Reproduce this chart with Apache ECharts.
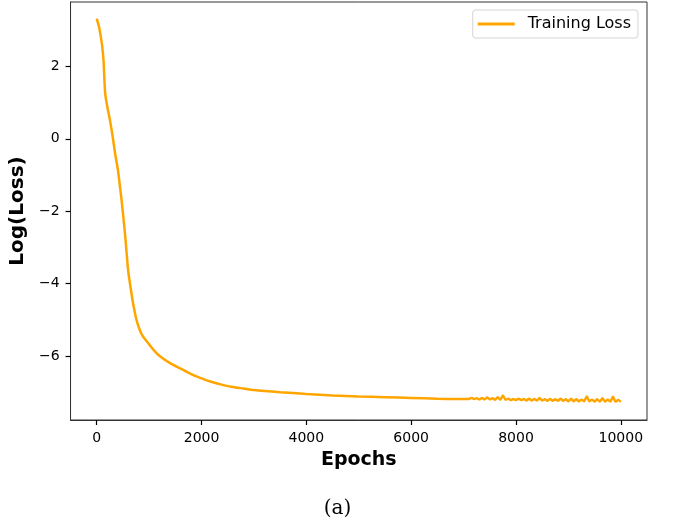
<!DOCTYPE html>
<html>
<head>
<meta charset="utf-8">
<script src="https://cdn.jsdelivr.net/npm/echarts@6/dist/echarts.min.js"></script>
<style>
html,body{margin:0;padding:0;background:#fff;}
#c{width:675px;height:527px;}
</style>
</head>
<body>
<div id="c"></div>
<script>
var epochs = [0,50,100,130,160,200,250,300,350,400,450,500,550,600,650,700,750,800,850,900,1000,1100,1200,1400,1600,1800,2000,2200,2400,2600,2800,3000,3500,4000,4500,5000,5500,6000,6500,
7000,7050,7100,7150,7200,7250,7300,7350,7400,7450,7500,7550,7600,7650,7700,7750,7800,7850,7900,7950,
8000,8050,8100,8150,8200,8250,8300,8350,8400,8450,8500,8550,8600,8650,8700,8750,8800,8850,8900,8950,
9000,9050,9100,9150,9200,9250,9300,9350,9400,9450,9500,9550,9600,9650,9700,9750,9800,9850,9900,9950,10000];
var lossValues = [3.32,3.05,2.6,2.15,1.27,0.9,0.53,0.1,-0.4,-0.82,-1.4,-2.05,-2.8,-3.65,-4.15,-4.6,-4.95,-5.2,-5.38,-5.5,-5.68,-5.86,-6.0,-6.2,-6.35,-6.5,-6.62,-6.72,-6.8,-6.86,-6.9,-6.94,-7.0,-7.05,-7.09,-7.12,-7.14,-7.16,-7.18,
-7.19,-7.19,-7.19,-7.16,-7.19,-7.17,-7.20,-7.16,-7.20,-7.15,-7.20,-7.17,-7.21,-7.14,-7.21,-7.09,-7.21,-7.18,-7.22,-7.19,
-7.22,-7.18,-7.22,-7.19,-7.23,-7.18,-7.23,-7.19,-7.23,-7.16,-7.23,-7.20,-7.24,-7.19,-7.24,-7.20,-7.24,-7.18,-7.24,-7.20,
-7.25,-7.18,-7.25,-7.20,-7.25,-7.21,-7.25,-7.12,-7.25,-7.21,-7.26,-7.20,-7.26,-7.17,-7.26,-7.21,-7.26,-7.13,-7.26,-7.22,-7.27];
var xTicks = [0,2000,4000,6000,8000,10000];
var yTicks = [-6,-4,-2,0,2];

var data = epochs.map(function(e,i){return [e, lossValues[i]];});
var chart = echarts.init(document.getElementById('c'), null, {renderer:'canvas'});
var fontFam = 'DejaVu Sans';
chart.setOption({
  animation:false,
  backgroundColor:'#fff',
  grid:{left:70,right:28,top:2,bottom:107,show:true,borderColor:'#333',borderWidth:1,containLabel:false},
  legend:{
    right:37, top:10, orient:'vertical',
    itemWidth:37, itemHeight:3, itemGap:4,
    padding:[6,7,6,5],
    borderColor:'#d5d5d5', borderWidth:1, borderRadius:3,
    textStyle:{fontFamily:fontFam,fontSize:16,color:'#000',padding:[0,0,0,8]},
    data:[{name:'Training Loss',icon:'rect'}]
  },
  xAxis:{
    type:'value', min:-500, max:10500,
    name:'Epochs', nameLocation:'middle', nameGap:31,
    nameTextStyle:{fontFamily:fontFam,fontSize:19,fontWeight:'bold',color:'#000'},
    axisLine:{show:true,onZero:false,lineStyle:{color:'#333'}},
    axisTick:{show:true,inside:false,length:5,lineStyle:{color:'#000',width:1.2},customValues:xTicks},
    axisLabel:{fontFamily:fontFam,fontSize:14,color:'#000',margin:11,customValues:xTicks,
      formatter:function(v){return String(v);}},
    splitLine:{show:false}
  },
  yAxis:{
    type:'value', min:-7.77, max:3.78,
    name:'Log(Loss)', nameLocation:'middle', nameGap:40, nameRotate:90,
    nameTextStyle:{fontFamily:fontFam,fontSize:20,fontWeight:'bold',color:'#000'},
    axisLine:{show:true,onZero:false,lineStyle:{color:'#333'}},
    axisTick:{show:true,inside:false,length:5,lineStyle:{color:'#000',width:1.2},customValues:yTicks},
    axisLabel:{fontFamily:fontFam,fontSize:14,color:'#000',margin:11,customValues:yTicks,
      formatter:function(v){return v<0?'\u2212'+Math.abs(v):String(v);}},
    splitLine:{show:false}
  },
  series:[{
    name:'Training Loss', type:'line', data:data, showSymbol:false, symbol:'none',
    smooth:0.25,
    lineStyle:{color:'#FFA500',width:2.5}, itemStyle:{color:'#FFA500'}
  }],
  graphic:[{
    type:'text', left:'center', top:499,
    style:{text:'(a)', font:'20px "DejaVu Serif"', fill:'#000'}
  }]
});
</script>
</body>
</html>
